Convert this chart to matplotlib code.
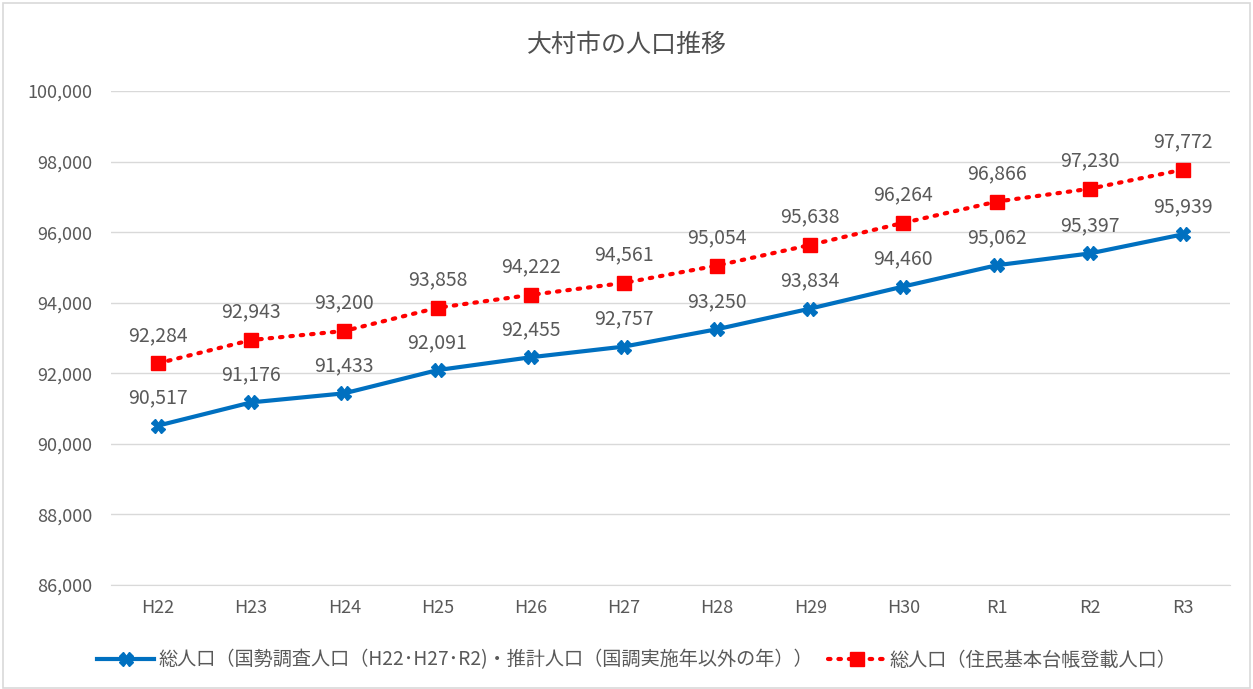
import matplotlib
matplotlib.use("Agg")
import matplotlib.pyplot as plt
from matplotlib.patches import Rectangle

plt.rcParams['font.family'] = ['Noto Sans CJK JP', 'DejaVu Sans']

categories = ["H22", "H23", "H24", "H25", "H26", "H27", "H28", "H29", "H30", "R1", "R2", "R3"]
census_pop = [90517, 91176, 91433, 92091, 92455, 92757, 93250, 93834, 94460, 95062, 95397, 95939]
registry_pop = [92284, 92943, 93200, 93858, 94222, 94561, 95054, 95638, 96264, 96866, 97230, 97772]
yticks = [86000, 88000, 90000, 92000, 94000, 96000, 98000, 100000]

label_census = "総人口（国勢調査人口（H22･H27･R2)・推計人口（国調実施年以外の年））"
label_registry = "総人口（住民基本台帳登載人口）"
title = "大村市の人口推移"

blue = "#0070C0"
red = "#FF0000"
gray_text = "#595959"

fig = plt.figure(figsize=(12.53, 6.89), dpi=100)
fig.patches.append(Rectangle((0.002, 0.002), 0.996, 0.994, transform=fig.transFigure,
                             fill=False, edgecolor="#D9D9D9", linewidth=1.2))
ax = fig.add_axes([0.0889, 0.1509, 0.8924, 0.717])

x = list(range(len(categories)))
ax.plot(x, census_pop, color=blue, linewidth=3, marker='X', markersize=10,
        markerfacecolor=blue, markeredgecolor=blue, label=label_census, zorder=3)
ax.plot(x, registry_pop, color=red, linewidth=3, linestyle=(0, (0.6, 1.9)),
        dash_capstyle='round', marker='s', markersize=9.5,
        markerfacecolor=red, markeredgecolor=red, label=label_registry, zorder=3)

for xi, v in zip(x, census_pop):
    ax.annotate(f"{v:,}", (xi, v), xytext=(0, 20), textcoords="offset points",
                ha="center", va="center", fontsize=14, color=gray_text)
for xi, v in zip(x, registry_pop):
    ax.annotate(f"{v:,}", (xi, v), xytext=(0, 20), textcoords="offset points",
                ha="center", va="center", fontsize=14, color=gray_text)

ax.set_xlim(-0.5, len(categories) - 0.5)
ax.set_ylim(86000, 100000)
ax.set_yticks(yticks)
ax.set_yticklabels([f"{t:,}" for t in yticks])
ax.set_xticks(x)
ax.set_xticklabels(categories)
ax.tick_params(axis='both', length=0, labelsize=13, colors=gray_text)
ax.tick_params(axis='x', pad=10)
ax.tick_params(axis='y', pad=14)
ax.grid(axis='y', color="#D9D9D9", linewidth=1)
ax.set_axisbelow(True)
for s in ["top", "right", "left"]:
    ax.spines[s].set_visible(False)
ax.spines["bottom"].set_color("#D9D9D9")

fig.text(0.5, 0.935, title, ha="center", va="center", fontsize=18, color="#505050")

fig.legend(loc="center", bbox_to_anchor=(0.508, 0.042), ncol=2, frameon=False,
           fontsize=13.8, labelcolor=gray_text, handlelength=3.0, columnspacing=0.8,
           handletextpad=0.2)

fig.savefig("out.png", dpi=100)
